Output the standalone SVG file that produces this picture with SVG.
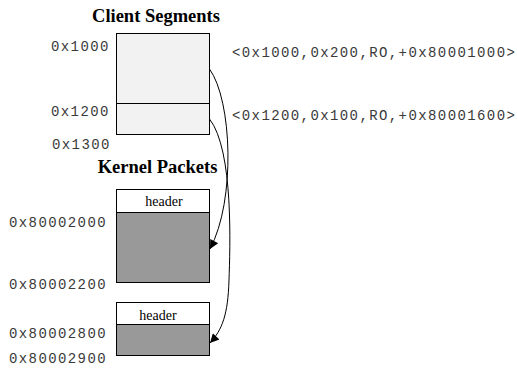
<svg xmlns="http://www.w3.org/2000/svg" width="517" height="368" viewBox="0 0 517 368">
<defs>
<style>
.title{font-family:"Liberation Serif","Times New Roman",serif;font-weight:bold;font-size:18.5px;fill:#000}
.hdr{font-family:"Liberation Serif","Times New Roman",serif;font-size:14px;fill:#000}
.mono{font-family:"Liberation Mono","Courier New",monospace;font-size:14px;letter-spacing:1.4px;fill:#3a3a3a}
.seg{fill:#f2f2f2;stroke:#000;stroke-width:1}
.data{fill:#999;stroke:#000;stroke-width:1}
.head{fill:#fff;stroke:#000;stroke-width:1}
.conn{fill:none;stroke:#000;stroke-width:1}
</style>
<marker id="arr" viewBox="0 0 10 10" refX="10" refY="5" markerWidth="11" markerHeight="9" markerUnits="userSpaceOnUse" orient="auto">
<path d="M0,0 L10,5 L0,10 z" fill="#000"/>
</marker>
</defs>
<rect width="517" height="368" fill="#fff"/>
<text class="title" x="156" y="22" text-anchor="middle">Client Segments</text>
<text class="title" x="157.5" y="173" text-anchor="middle">Kernel Packets</text>
<g id="client-segments">
<rect class="seg" x="116.5" y="33.5" width="93" height="70"/>
<rect class="seg" x="116.5" y="103.5" width="93" height="31"/>
</g>
<g id="packet1">
<rect class="head" x="116.5" y="189.5" width="93" height="23"/>
<rect class="data" x="116.5" y="212.5" width="93" height="70"/>
<text class="hdr" x="164" y="206" text-anchor="middle">header</text>
</g>
<g id="packet2">
<rect class="head" x="116.5" y="302.5" width="93" height="22"/>
<rect class="data" x="116.5" y="324.5" width="93" height="31"/>
<text class="hdr" x="158" y="320" text-anchor="middle">header</text>
</g>
<g id="labels">
<text class="mono" x="51" y="51">0x1000</text>
<text class="mono" x="51" y="116">0x1200</text>
<text class="mono" x="52" y="149">0x1300</text>
<text class="mono" x="9" y="227">0x80002000</text>
<text class="mono" x="9" y="289">0x80002200</text>
<text class="mono" x="9" y="338">0x80002800</text>
<text class="mono" x="9" y="363">0x80002900</text>
<text class="mono" x="232" y="57">&lt;0x1000,0x200,RO,+0x80001000&gt;</text>
<text class="mono" x="232" y="120">&lt;0x1200,0x100,RO,+0x80001600&gt;</text>
</g>
<g id="connectors">
<path class="conn" d="M209.5,69 C232,100 236,200 210,249" marker-end="url(#arr)"/>
<path class="conn" d="M209.5,119 C234,150 230,250 229,280 C228,315 222,330 210,343" marker-end="url(#arr)"/>
</g>
</svg>
